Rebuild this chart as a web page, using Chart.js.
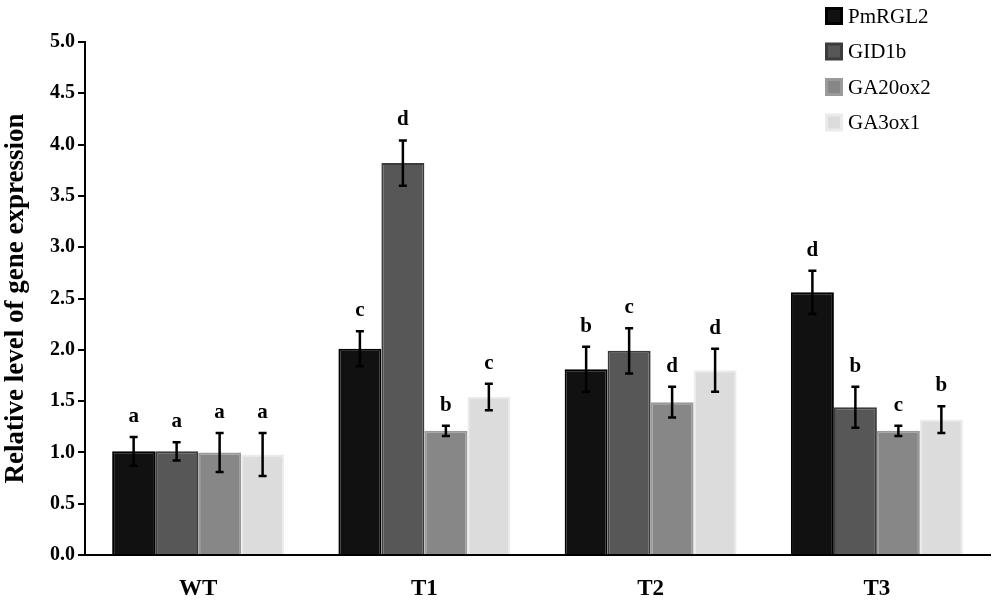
<!DOCTYPE html>
<html>
<head>
<meta charset="utf-8">
<script src="https://cdn.jsdelivr.net/npm/chart.js@4"></script>
<style>
  html, body { margin: 0; padding: 0; background: #fff; }
  #wrap { width: 1000px; height: 605px; }
</style>
</head>
<body>
<div id="wrap"><canvas id="myChart"></canvas></div>
<script>
(() => {
  'use strict'

  // data
  var groups = ['WT', 'T1', 'T2', 'T3'];
  var genes = ['PmRGL2', 'GID1b', 'GA20ox2', 'GA3ox1'];
  var pmrgl2 = [1.01, 2.01, 1.81, 2.56];
  var gid1b = [1.01, 3.82, 1.99, 1.44];
  var ga20ox2 = [1.00, 1.21, 1.49, 1.21];
  var ga3ox1 = [0.98, 1.54, 1.80, 1.32];
  var pmrgl2_err = [0.14, 0.17, 0.22, 0.21];
  var gid1b_err = [0.09, 0.22, 0.22, 0.20];
  var ga20ox2_err = [0.19, 0.05, 0.15, 0.05];
  var ga3ox1_err = [0.21, 0.13, 0.21, 0.13];
  var pmrgl2_sig = ['a', 'c', 'b', 'd'];
  var gid1b_sig = ['a', 'd', 'c', 'b'];
  var ga20ox2_sig = ['a', 'b', 'd', 'c'];
  var ga3ox1_sig = ['a', 'c', 'd', 'b'];
  var y_ticks = [0, 0.5, 1, 1.5, 2, 2.5, 3, 3.5, 4, 4.5, 5];

  var fills = ['#111111', '#575757', '#878787', '#dcdcdc'];
  var edges = ['#000000', '#3c3c3c', '#9a9a9a', '#ebebeb'];
  var serif = '"Liberation Serif", "Times New Roman", serif';

  var values = [pmrgl2, gid1b, ga20ox2, ga3ox1];
  var errs = [pmrgl2_err, gid1b_err, ga20ox2_err, ga3ox1_err];
  var sigs = [pmrgl2_sig, gid1b_sig, ga20ox2_sig, ga3ox1_sig];

  var datasets = genes.map((g, i) => ({
    label: g,
    data: values[i],
    err: errs[i],
    sig: sigs[i],
    backgroundColor: fills[i],
    borderColor: edges[i],
    borderWidth: 2,
    borderSkipped: 'bottom',
    categoryPercentage: 0.76,
    barPercentage: 1.0
  }));

  // error bars + letters
  const errorBars = {
    id: 'errorBars',
    afterDatasetsDraw(chart) {
      const c = chart.ctx;
      const y = chart.scales.y;
      c.save();
      c.strokeStyle = '#000';
      c.fillStyle = '#000';
      c.lineWidth = 2.5;
      c.font = 'bold 21px ' + serif;
      c.textAlign = 'center';
      c.textBaseline = 'bottom';
      chart.data.datasets.forEach((ds, i) => {
        chart.getDatasetMeta(i).data.forEach((bar, j) => {
          const v = ds.data[j], e = ds.err[j];
          const yt = y.getPixelForValue(v + e);
          const yb = y.getPixelForValue(v - e);
          const x = bar.x;
          c.beginPath();
          c.moveTo(x, yt); c.lineTo(x, yb);
          c.moveTo(x - 4, yt); c.lineTo(x + 4, yt);
          c.moveTo(x - 4, yb); c.lineTo(x + 4, yb);
          c.stroke();
          c.fillText(ds.sig[j], x, yt - 10);
        });
      });
      c.restore();
    }
  };

  // legend in the top right corner
  const cornerLegend = {
    id: 'cornerLegend',
    afterDraw(chart) {
      const c = chart.ctx;
      c.save();
      c.font = '21px ' + serif;
      c.textBaseline = 'middle';
      chart.data.datasets.forEach((ds, i) => {
        const yy = 16 + i * 35.5;
        c.fillStyle = ds.borderColor;
        c.fillRect(825, yy - 9, 18, 18);
        c.fillStyle = ds.backgroundColor;
        c.fillRect(828, yy - 6, 12, 12);
        c.fillStyle = '#000';
        c.fillText(ds.label, 848, yy + 1);
      });
      c.restore();
    }
  };

  const ctx = document.getElementById('myChart')
  // eslint-disable-next-line no-unused-vars
  const myChart = new Chart(ctx, {
    type: 'bar',
    data: { labels: groups, datasets: datasets },
    plugins: [errorBars, cornerLegend],
    options: {
      responsive: true,
      maintainAspectRatio: false,
      animation: false,
      layout: { padding: { top: 42, right: 10, left: 0, bottom: 0 } },
      plugins: {
        legend: { display: false },
        tooltip: { enabled: false }
      },
      scales: {
        x: {
          grid: { display: false },
          border: { color: '#000', width: 2 },
          ticks: {
            color: '#000',
            padding: 12,
            font: { family: serif, size: 23, weight: 'bold' }
          },
          afterFit(s) { s.height = 50; }
        },
        y: {
          min: 0,
          max: 5,
          afterBuildTicks(s) { s.ticks = y_ticks.map(v => ({ value: v })); },
          grid: { drawOnChartArea: false, drawTicks: true, tickLength: 7, color: '#000', lineWidth: 2 },
          border: { color: '#000', width: 2 },
          ticks: {
            color: '#000',
            padding: 3,
            font: { family: serif, size: 20, weight: 'bold' },
            callback: v => v.toFixed(1)
          },
          title: {
            display: true,
            text: 'Relative level of gene expression',
            color: '#000',
            padding: { top: 0, bottom: 2 },
            font: { family: serif, size: 27, weight: 'bold' }
          },
          afterFit(s) { s.width = 85; }
        }
      }
    }
  })
})()
</script>
</body>
</html>
